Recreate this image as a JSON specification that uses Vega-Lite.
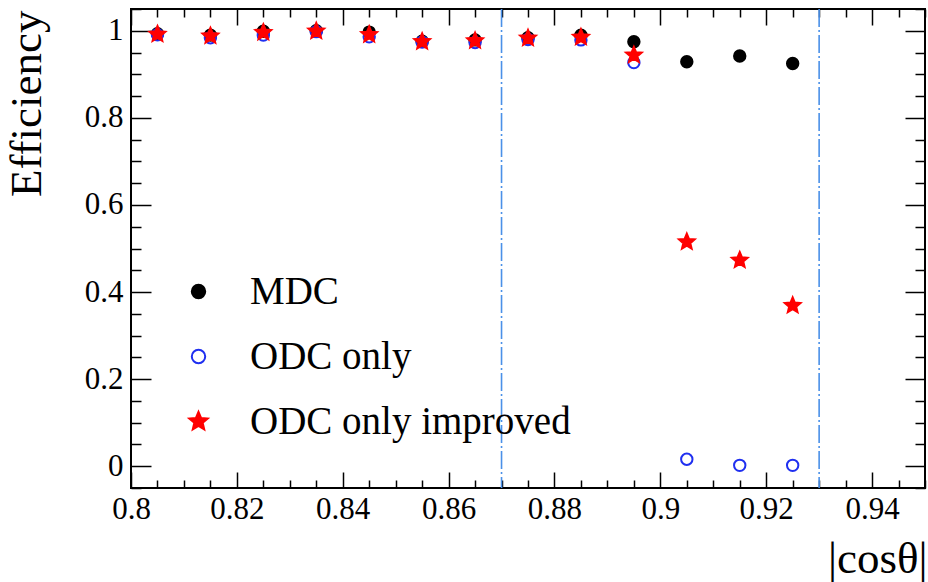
{
  "$schema": "https://vega.github.io/schema/vega-lite/v6.json",
  "width": 794,
  "height": 479,
  "autosize": {"type": "none"},
  "padding": {"left": 131, "top": 9, "right": 3, "bottom": 94},
  "background": "white",
  "config": {
    "view": {"stroke": "black", "strokeWidth": 2},
    "font": "Liberation Serif",
    "axis": {
      "grid": false, "domain": false,
      "labelFont": "Liberation Serif", "labelFontSize": 31, "labelColor": "black",
      "labelOverlap": false, "labelFlush": false,
      "tickColor": "black", "tickWidth": 1.5,
      "titleFont": "Liberation Serif", "titleFontWeight": "normal", "titleColor": "black"
    },
    "legend": {
      "orient": "none", "legendX": 48, "legendY": 263, "title": null,
      "labelFont": "Liberation Serif", "labelFontSize": 39, "labelColor": "black", "labelLimit": 0,
      "symbolSize": 180, "symbolStrokeWidth": 2, "symbolOpacity": 1, "rowPadding": 25, "labelOffset": 32
    }
  },
  "datasets": {
    "eff": [
      {"x": 0.805, "eff": 0.993, "series": "MDC"},
      {"x": 0.815, "eff": 0.990, "series": "MDC"},
      {"x": 0.825, "eff": 0.999, "series": "MDC"},
      {"x": 0.835, "eff": 1.000, "series": "MDC"},
      {"x": 0.845, "eff": 0.997, "series": "MDC"},
      {"x": 0.855, "eff": 0.976, "series": "MDC"},
      {"x": 0.865, "eff": 0.979, "series": "MDC"},
      {"x": 0.875, "eff": 0.984, "series": "MDC"},
      {"x": 0.885, "eff": 0.990, "series": "MDC"},
      {"x": 0.895, "eff": 0.975, "series": "MDC"},
      {"x": 0.905, "eff": 0.929, "series": "MDC"},
      {"x": 0.915, "eff": 0.942, "series": "MDC"},
      {"x": 0.925, "eff": 0.925, "series": "MDC"},
      {"x": 0.805, "eff": 0.991, "series": "ODC only"},
      {"x": 0.815, "eff": 0.984, "series": "ODC only"},
      {"x": 0.825, "eff": 0.990, "series": "ODC only"},
      {"x": 0.835, "eff": 0.998, "series": "ODC only"},
      {"x": 0.845, "eff": 0.986, "series": "ODC only"},
      {"x": 0.855, "eff": 0.974, "series": "ODC only"},
      {"x": 0.865, "eff": 0.973, "series": "ODC only"},
      {"x": 0.875, "eff": 0.980, "series": "ODC only"},
      {"x": 0.885, "eff": 0.979, "series": "ODC only"},
      {"x": 0.895, "eff": 0.927, "series": "ODC only"},
      {"x": 0.905, "eff": 0.016, "series": "ODC only"},
      {"x": 0.915, "eff": 0.002, "series": "ODC only"},
      {"x": 0.925, "eff": 0.002, "series": "ODC only"},
      {"x": 0.805, "eff": 0.992, "series": "ODC only improved"},
      {"x": 0.815, "eff": 0.988, "series": "ODC only improved"},
      {"x": 0.825, "eff": 0.996, "series": "ODC only improved"},
      {"x": 0.835, "eff": 0.999, "series": "ODC only improved"},
      {"x": 0.845, "eff": 0.991, "series": "ODC only improved"},
      {"x": 0.855, "eff": 0.975, "series": "ODC only improved"},
      {"x": 0.865, "eff": 0.977, "series": "ODC only improved"},
      {"x": 0.875, "eff": 0.983, "series": "ODC only improved"},
      {"x": 0.885, "eff": 0.985, "series": "ODC only improved"},
      {"x": 0.895, "eff": 0.944, "series": "ODC only improved"},
      {"x": 0.905, "eff": 0.515, "series": "ODC only improved"},
      {"x": 0.915, "eff": 0.473, "series": "ODC only improved"},
      {"x": 0.925, "eff": 0.369, "series": "ODC only improved"}
    ],
    "lines": [{"x": 0.87}, {"x": 0.93}]
  },
  "layer": [
    {
      "data": {"name": "lines"},
      "mark": {"type": "rule", "color": "#4a90e8", "strokeWidth": 1.6, "strokeDash": [18, 3, 2, 3]},
      "encoding": {
        "x": {"field": "x", "type": "quantitative", "scale": {"domain": [0.8, 0.95], "nice": false, "zero": false}, "axis": null}
      }
    },
    {
      "data": {"name": "eff"},
      "mark": {"type": "point", "strokeWidth": 2, "size": 130, "opacity": 1},
      "encoding": {
        "x": {"field": "x", "type": "quantitative", "scale": {"domain": [0.8, 0.95], "nice": false, "zero": false},
          "axis": {"orient": "bottom",
            "values": [0.8, 0.805, 0.81, 0.815, 0.82, 0.825, 0.83, 0.835, 0.84, 0.845, 0.85, 0.855, 0.86, 0.865, 0.87, 0.875, 0.88, 0.885, 0.89, 0.895, 0.9, 0.905, 0.91, 0.915, 0.92, 0.925, 0.93, 0.935, 0.94, 0.945, 0.95],
            "format": "~g",
            "labelExpr": "round(datum.value*1000) % 20 == 0 && datum.value < 0.945 ? datum.label : ''",
            "tickSize": -16,
            "tickDash": {"condition": {"test": "round(datum.value*1000) % 20 == 0", "value": [16, 100]}, "value": [8, 100]},
            "labelPadding": 22,
            "title": "|cosθ|", "titleFontSize": 45, "titleAlign": "right", "titleBaseline": "alphabetic", "titleX": 796, "titleY": 84}},
        "y": {"field": "eff", "type": "quantitative", "scale": {"domain": [-0.05, 1.05], "nice": false, "zero": false},
          "axis": {"orient": "left",
            "values": [-0.05, 0, 0.05, 0.1, 0.15, 0.2, 0.25, 0.3, 0.35, 0.4, 0.45, 0.5, 0.55, 0.6, 0.65, 0.7, 0.75, 0.8, 0.85, 0.9, 0.95, 1, 1.05],
            "format": "~g",
            "labelExpr": "round(datum.value*100) % 20 == 0 ? datum.label : ''",
            "tickSize": -20,
            "tickDash": {"condition": {"test": "round(datum.value*100) % 20 == 0", "value": [20, 100]}, "value": [10, 100]},
            "labelPadding": 28,
            "title": "Efficiency", "titleFontSize": 45, "titleAngle": -90, "titleAlign": "right", "titleBaseline": "bottom", "titleX": -82, "titleY": 1}},
        "shape": {"field": "series", "type": "nominal", "scale": {"domain": ["MDC", "ODC only", "ODC only improved"], "range": ["circle", "circle", "M0,-1.45L0.383,-0.528L1.379,-0.448L0.621,0.202L0.853,1.173L0,0.653L-0.853,1.173L-0.621,0.202L-1.379,-0.448L-0.383,-0.528Z"]}},
        "fill": {"field": "series", "type": "nominal", "scale": {"domain": ["MDC", "ODC only", "ODC only improved"], "range": ["black", "transparent", "#ff0000"]}},
        "stroke": {"field": "series", "type": "nominal", "scale": {"domain": ["MDC", "ODC only", "ODC only improved"], "range": ["black", "#1f2ff0", "#ff0000"]}}
      }
    },
    {
      "data": {"name": "eff"},
      "mark": {"type": "point", "opacity": 0},
      "encoding": {
        "x": {"field": "x", "type": "quantitative", "scale": {"domain": [0.8, 0.95], "nice": false, "zero": false},
          "axis": {"orient": "top",
            "values": [0.8, 0.805, 0.81, 0.815, 0.82, 0.825, 0.83, 0.835, 0.84, 0.845, 0.85, 0.855, 0.86, 0.865, 0.87, 0.875, 0.88, 0.885, 0.89, 0.895, 0.9, 0.905, 0.91, 0.915, 0.92, 0.925, 0.93, 0.935, 0.94, 0.945, 0.95],
            "labels": false, "tickSize": -16,
            "tickDash": {"condition": {"test": "round(datum.value*1000) % 20 == 0", "value": [16, 100]}, "value": [8, 100]},
            "title": null}},
        "y": {"field": "eff", "type": "quantitative", "scale": {"domain": [-0.05, 1.05], "nice": false, "zero": false},
          "axis": {"orient": "right",
            "values": [-0.05, 0, 0.05, 0.1, 0.15, 0.2, 0.25, 0.3, 0.35, 0.4, 0.45, 0.5, 0.55, 0.6, 0.65, 0.7, 0.75, 0.8, 0.85, 0.9, 0.95, 1, 1.05],
            "labels": false, "tickSize": -20,
            "tickDash": {"condition": {"test": "round(datum.value*100) % 20 == 0", "value": [20, 100]}, "value": [10, 100]},
            "title": null}}
      }
    }
  ],
  "resolve": {"axis": {"x": "independent", "y": "independent"}}
}
